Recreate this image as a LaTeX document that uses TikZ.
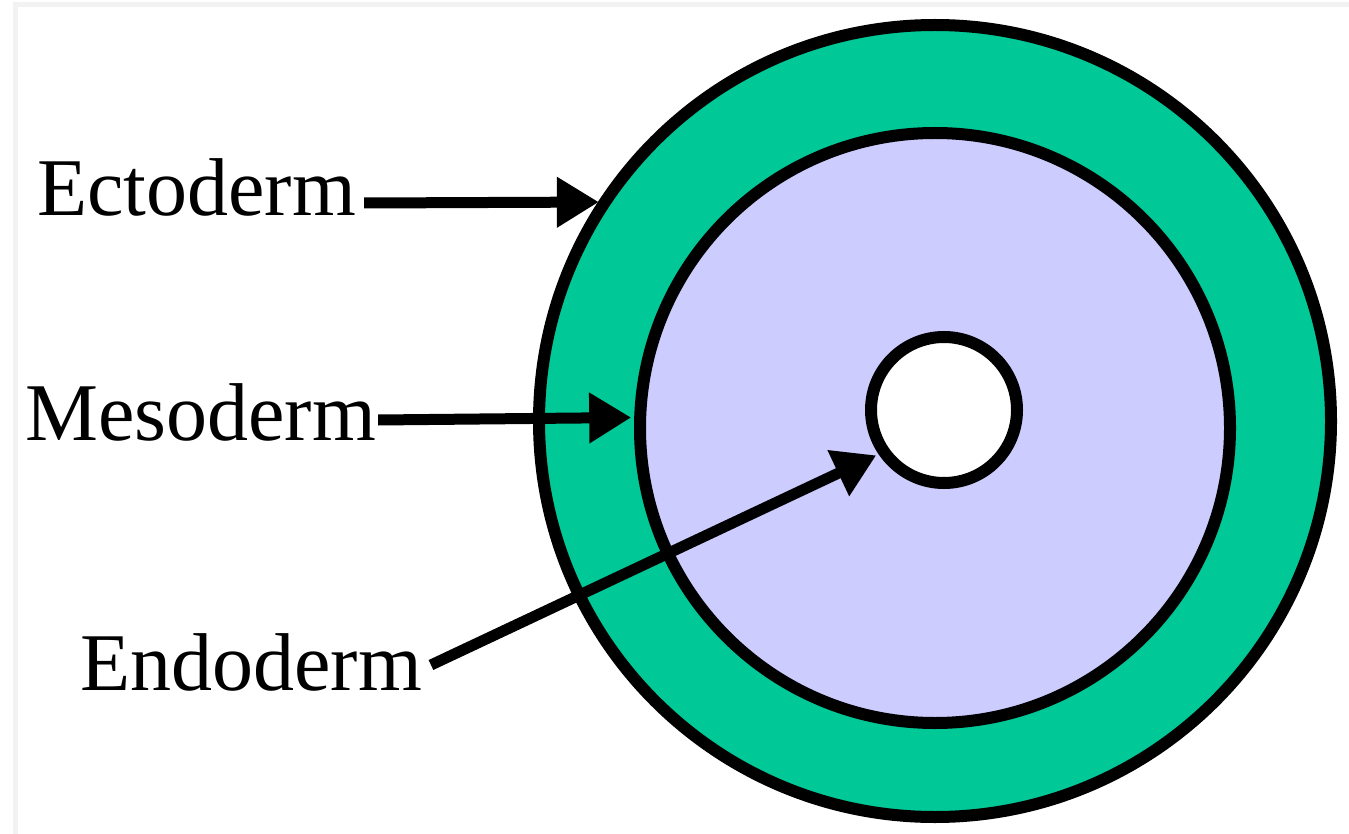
\documentclass[tikz,border=0pt]{standalone}
\usepackage{fontspec}
\setmainfont{Liberation Serif}
\usetikzlibrary{arrows.meta}
\definecolor{ectogreen}{RGB}{0,200,150}
\definecolor{mesoblue}{RGB}{204,204,255}
\definecolor{framegray}{RGB}{242,242,242}
\begin{document}
\begin{tikzpicture}[x=1pt,y=-1pt,
  layer/.style={circle,draw=black,line width=12pt,inner sep=0pt},
  lbl/.style={anchor=base west,inner sep=0pt,font=\fontsize{82}{90}\selectfont},
  arr/.style={line width=11pt,-{Triangle[length=42pt,width=48pt]}}]
\useasboundingbox (0,0) rectangle (1349,834);
\fill[white] (0,0) rectangle (1349,834);
\fill[framegray] (13,2) rectangle (1349,7);
\fill[framegray] (13,2) rectangle (18,834);
% layers
\node[layer,fill=ectogreen,minimum size=792pt] (ecto) at (935,421) {};
\node[layer,fill=mesoblue,minimum size=590pt] (meso) at (935,428) {};
\node[layer,fill=white,minimum size=146pt] (endo) at (944,410) {};
% labels
\node[lbl] (tecto) at (37,216) {Ectoderm};
\node[lbl] (tmeso) at (25,440) {Mesoderm};
\node[lbl] (tendo) at (80,690) {Endoderm};
% arrows
\draw[arr] ([xshift=8pt,yshift=13pt]tecto.base east) -- ([xshift=1pt]ecto.147);
\draw[arr] ([xshift=2pt,yshift=20pt]tmeso.base east) -- ([xshift=-3pt]meso.178);
\draw[arr] ([xshift=9pt,yshift=25pt]tendo.base east) -- ([xshift=-3pt]endo.215);
\end{tikzpicture}
\end{document}
